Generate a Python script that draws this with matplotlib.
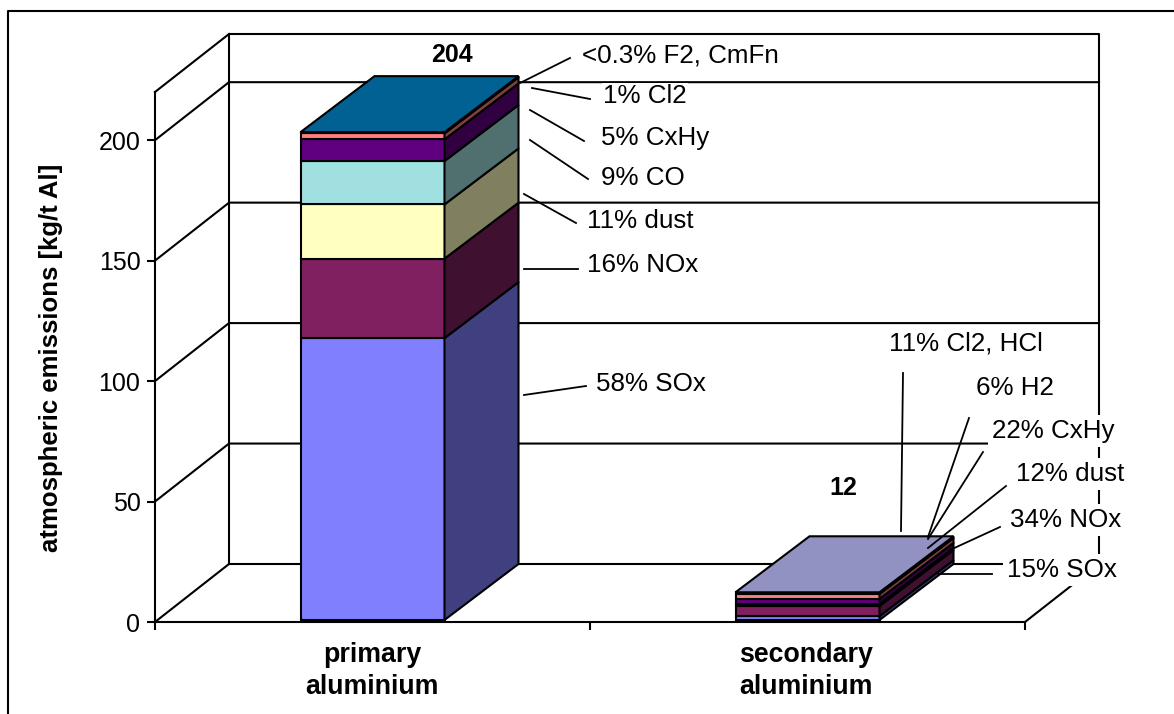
import matplotlib
matplotlib.use("Agg")
import matplotlib.pyplot as plt
from matplotlib.patches import Polygon

plt.rcParams['font.family'] = ['Liberation Sans', 'DejaVu Sans']

categories = ['primary\naluminium', 'secondary\naluminium']
totals = ['204', '12']
layer_colors = ['#8080FF', '#802060', '#FFFFC0', '#A0E0E0', '#600080', '#FF8080', '#0080C0', '#C0C0FF']
primary_values = [117, 33, 22.5, 18, 9, 2.5, 0.5, 0]
secondary_values = [1.6, 4.2, 0.8, 0, 2.2, 2.0, 0, 0.7]
y_ticks = [0, 50, 100, 150, 200]
Y_MAX = 220

primary_labels = ['58% SOx', '16% NOx', '11% dust', '9% CO', '5% CxHy', '1% Cl2', '<0.3% F2, CmFn']
secondary_labels = ['15% SOx', '34% NOx', '12% dust', '22% CxHy', '6% H2', '11% Cl2, HCl']
primary_label_pos = [(596, 384), (587, 265), (587, 221), (601, 178), (601, 138), (603, 96), (582, 56)]
secondary_label_pos = [(1007, 570), (1010, 520), (1016, 474), (992, 431), (976, 388), (889, 344)]
primary_leaders = [((524, 395), (586, 386)), ((524, 269), (578, 269)), ((524, 194), (576, 223)),
                   ((530, 140), (588, 179)), ((530, 110), (584, 141)), ((532, 88), (590, 99)),
                   ((520, 83), (570, 58))]
secondary_leaders = [((938, 574), (992, 574)), ((950, 550), (1000, 527)), ((928, 548), (1006, 486)),
                     ((928, 539), (983, 452)), ((928, 537), (969, 418)), ((901, 531), (903, 373))]

W, H = 1174, 714
fig = plt.figure(figsize=(W / 100, H / 100), dpi=100, facecolor='white')
LW = 1.5

# plot area = front plane of the 3-D box
PX_L, PX_R, PX_0, PX_T = 155, 1025, 622, 92
ax = fig.add_axes([PX_L / W, 1 - PX_0 / H, (PX_R - PX_L) / W, (PX_0 - PX_T) / H])
ax.set_xlim(0, 2)
ax.set_ylim(0, Y_MAX)
ax.patch.set_alpha(0)
for s in ['top', 'right']:
    ax.spines[s].set_visible(False)
for s in ['left', 'bottom']:
    ax.spines[s].set_linewidth(LW)
    ax.spines[s].set_zorder(1.5)
px_x = 2 / (PX_R - PX_L)
px_y = Y_MAX / (PX_0 - PX_T)
DX, DY = 74 * px_x, 58 * px_y           # wall depth
BDX, BDY, LIFT = 74 * px_x, 56 * px_y, 2 * px_y  # bar depth and lift

ax.set_yticks(y_ticks)
ax.set_xticks([0, 1, 2])
ax.set_xticklabels([])
ax.tick_params(axis='y', length=5.5, width=LW, labelsize=18, pad=5)
ax.tick_params(axis='x', length=5.5, width=LW)
ax.set_ylabel('atmospheric emissions [kg/t Al]', fontsize=18.5, fontweight='bold')
ax.yaxis.set_label_coords((63 - PX_L) / (PX_R - PX_L), (PX_0 - 358) / (PX_0 - PX_T))

def line(xs, ys, z=1):
    ax.plot(xs, ys, color='black', lw=LW, zorder=z, clip_on=False, solid_capstyle='projecting')

# walls
line([DX, DX, 2 + DX, 2 + DX], [DY, Y_MAX + DY, Y_MAX + DY, DY])
line([0, DX, 2 + DX, 2], [0, DY, DY, 0])
line([0, DX], [Y_MAX, Y_MAX + DY])
for t in y_ticks[1:]:
    line([0, DX, 2 + DX], [t, t + DY, t + DY])

def shade(c, f):
    r, g, b = matplotlib.colors.to_rgb(c)
    return (r * f, g * f, b * f)

BAR_W = 144 * px_x
for center, vals, top_color in zip([0.5, 1.5], [primary_values, secondary_values], ['#0080C0', '#C0C0FF']):
    x0, x1 = center - BAR_W / 2, center + BAR_W / 2
    bottom = LIFT
    for v, c in zip(vals, layer_colors):
        if v == 0:
            continue
        ax.bar(center, v, BAR_W, bottom=bottom, color=c, edgecolor='black', lw=LW, zorder=3)
        side = [(x1, bottom), (x1 + BDX, bottom + BDY), (x1 + BDX, bottom + v + BDY), (x1, bottom + v)]
        ax.add_patch(Polygon(side, closed=True, facecolor=shade(c, 0.5), edgecolor='black', lw=LW, zorder=3, clip_on=False))
        bottom += v
    topf = [(x0, bottom), (x1, bottom), (x1 + BDX, bottom + BDY), (x0 + BDX, bottom + BDY)]
    ax.add_patch(Polygon(topf, closed=True, facecolor=shade(top_color, 0.76), edgecolor='black', lw=LW, zorder=3.5, clip_on=False))

# overlay in pixels for callouts
ov = fig.add_axes([0, 0, 1, 1], zorder=5)
ov.set_xlim(0, W)
ov.set_ylim(H, 0)
ov.axis('off')
ov.plot([8, 8, W], [H, 11, 11], color='black', lw=LW, clip_on=False)

for labels, pos, pad in [(primary_labels, primary_label_pos, 1.0), (secondary_labels, secondary_label_pos, 3.0)]:
    for s, (x, y) in zip(labels, pos):
        ov.text(x, y, s, fontsize=18.7, ha='left', va='center', zorder=2,
                bbox=dict(facecolor='white', edgecolor='none', pad=pad))
for a, b in primary_leaders + secondary_leaders:
    ov.plot([a[0], b[0]], [a[1], b[1]], color='black', lw=1.3, zorder=3)

ov.text(452, 55, totals[0], fontsize=18, fontweight='bold', ha='center', va='center')
ov.text(843, 488, totals[1], fontsize=18, fontweight='bold', ha='center', va='center')
for cx, s in zip([372, 806], categories):
    ov.text(cx, 671, s, fontsize=19.3, fontweight='bold', ha='center', va='center', linespacing=1.3)

fig.savefig('out.png', dpi=100, facecolor='white')
